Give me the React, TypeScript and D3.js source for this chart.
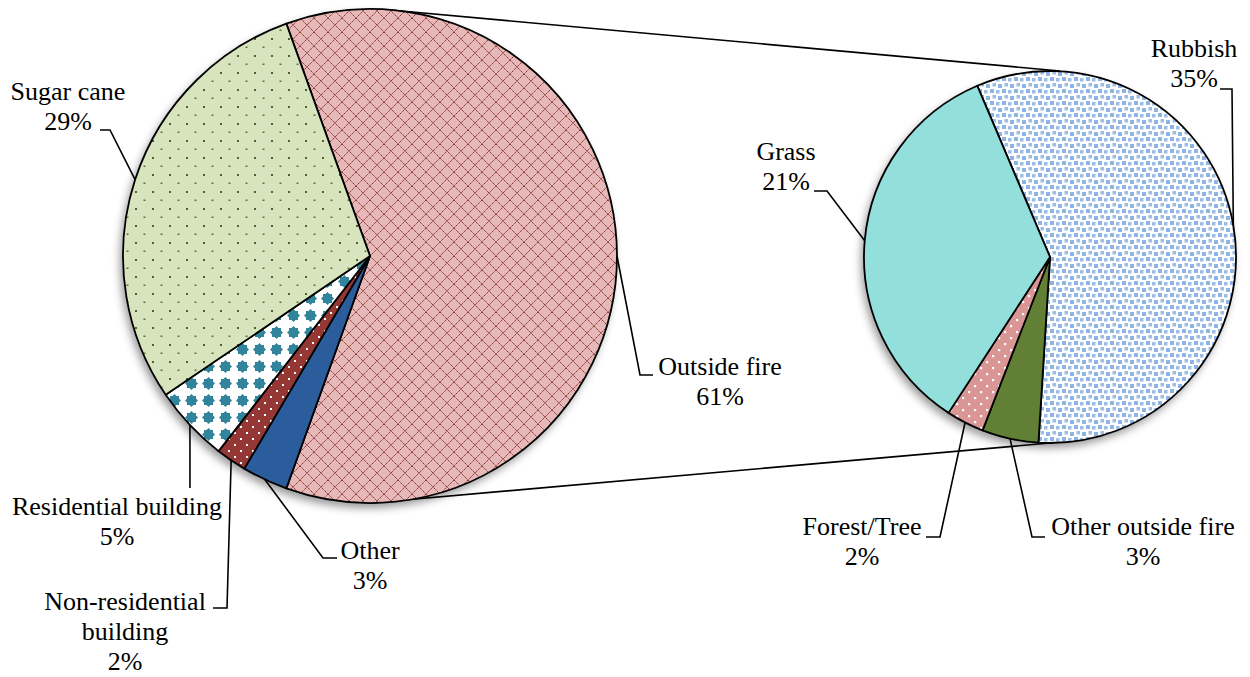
import React from "react";
import * as d3 from "d3";

// main pie
const mainCategories = ["Outside fire", "Other", "Non-residential building", "Residential building", "Sugar cane"];
const mainValues = [61, 3, 2, 5, 29];
const mainLabelLines = [["Outside fire", "61%"], ["Other", "3%"], ["Non-residential", "building", "2%"], ["Residential building", "5%"], ["Sugar cane", "29%"]];

// secondary pie (split of "Outside fire")
const subCategories = ["Rubbish", "Other outside fire", "Forest/Tree", "Grass"];
const subValues = [35, 3, 2, 21];
const subLabelLines = [["Rubbish", "35%"], ["Other outside fire", "3%"], ["Forest/Tree", "2%"], ["Grass", "21%"]];

const W = 1250;
const H = 677;
const LEFT = { cx: 370, cy: 256, r: 247 };
const RIGHT = { cx: 1050, cy: 257, r: 186 };
const FONT = "'Liberation Serif', 'Times New Roman', serif";
const FONT_SIZE = 26;
const LINE_H = 30;

const mainFills = ["url(#pLattice)", "#2B5C9B", "url(#pRedDots)", "url(#pDiamond)", "url(#pGreenDots)"];
const subFills = ["url(#pConfetti)", "#617F35", "url(#pPinkDots)", "#93DFDC"];

// label placement: text centre x, first baseline y, leader elbow and end of horizontal tick
const mainLayout = [
  { x: 720, y: 375, elbow: [640, 375], end: [653, 375] },
  { x: 370, y: 559, elbow: [323, 558], end: [337, 558] },
  { x: 125, y: 610, elbow: [227, 608], end: [213, 608] },
  { x: 117, y: 515, elbow: [null, 488], end: null },
  { x: 68, y: 100, elbow: [110, 130], end: [100, 130] }
];
const subLayout = [
  { x: 1194, y: 57, elbow: [1232, 89], end: [1220, 89] },
  { x: 1143, y: 535, elbow: [1032, 537], end: [1045, 537] },
  { x: 862, y: 535, elbow: [940, 537], end: [926, 537] },
  { x: 786, y: 160, elbow: [827, 191], end: [814, 191] }
];

const deg = Math.PI / 180;

function PieGroup({ values, fills, lines, layout, geo, start }) {
  const pie = d3.pie<number>().sort(null).value(d => d).startAngle(start).endAngle(start + 2 * Math.PI);
  const arcs = pie(values);
  const arc = d3.arc<any>().innerRadius(0).outerRadius(geo.r);
  return (
    <g>
      <circle cx={geo.cx} cy={geo.cy} r={geo.r} fill="#fff" filter="url(#shadow)" />
      <g transform={`translate(${geo.cx},${geo.cy})`}>
        {arcs.map((a, i) => (
          <path key={i} d={arc(a) || ""} fill={fills[i]} stroke="#000" strokeWidth={1.8} strokeLinejoin="round" />
        ))}
      </g>
      {arcs.map((a, i) => {
        const mid = (a.startAngle + a.endAngle) / 2;
        const ax = geo.cx + geo.r * Math.sin(mid);
        const ay = geo.cy - geo.r * Math.cos(mid);
        const L = layout[i];
        const ex = L.elbow[0] == null ? ax : L.elbow[0];
        const pts = [[ax, ay], [ex, L.elbow[1]]];
        if (L.end) pts.push(L.end);
        return (
          <g key={"l" + i}>
            <polyline points={pts.map(p => p.join(",")).join(" ")} fill="none" stroke="#000" strokeWidth={1.6} />
            <text x={L.x} y={L.y} textAnchor="middle" fontFamily={FONT} fontSize={FONT_SIZE} fill="#000">
              {lines[i].map((t, j) => (
                <tspan key={j} x={L.x} y={L.y + j * LINE_H}>{t}</tspan>
              ))}
            </text>
          </g>
        );
      })}
    </g>
  );
}

export default function App() {
  const mainSpan = (mainValues[0] / d3.sum(mainValues)) * 2 * Math.PI;
  const mainStart = Math.PI / 2 - mainSpan / 2;
  const subStart = -23 * deg;

  return (
    <div style={{ position: "absolute", left: 0, top: 0 }}>
      <svg width={W} height={H} style={{ display: "block", background: "#fff" }}>
        <defs>
          <filter id="shadow" x="-20%" y="-20%" width="140%" height="140%">
            <feDropShadow dx={-3} dy={5} stdDeviation={4} floodColor="#000" floodOpacity={0.4} />
          </filter>
          <pattern id="pLattice" width={14} height={14} patternUnits="userSpaceOnUse">
            <rect width={14} height={14} fill="#E6B9B8" />
            <path d="M0,0L14,14M14,0L0,14" stroke="#8A3533" strokeWidth={1} strokeDasharray="1.6,0.6" />
          </pattern>
          <pattern id="pGreenDots" width={17} height={17} patternUnits="userSpaceOnUse">
            <rect width={17} height={17} fill="#D7E4BD" />
            <rect x={3} y={3} width={2} height={2} fill="#4F6228" />
            <rect x={11.5} y={11.5} width={2} height={1.5} fill="#5E7433" />
          </pattern>
          <pattern id="pDiamond" width={17} height={17} patternUnits="userSpaceOnUse">
            <rect width={17} height={17} fill="#fff" />
            <path d="M8.5,2L15,8.5L8.5,15L2,8.5Z" fill="#31849B" />
            <rect x={4} y={4} width={9} height={9} fill="#31849B" />
          </pattern>
          <pattern id="pRedDots" width={12} height={12} patternUnits="userSpaceOnUse">
            <rect width={12} height={12} fill="#953735" />
            <rect x={2} y={2} width={2} height={2} fill="#fff" />
            <rect x={8} y={8} width={2} height={2} fill="#fff" />
          </pattern>
          <pattern id="pPinkDots" width={12} height={12} patternUnits="userSpaceOnUse">
            <rect width={12} height={12} fill="#D99694" />
            <rect x={2} y={2} width={2.2} height={2.2} fill="#fff" />
            <rect x={8} y={8} width={2.2} height={2.2} fill="#fff" />
          </pattern>
          <pattern id="pConfetti" width={12} height={12} patternUnits="userSpaceOnUse">
            <rect width={12} height={12} fill="#fff" />
            <rect x={0} y={0} width={4} height={4} fill="#8DB4E2" />
            <rect x={6} y={1} width={3.5} height={3.5} fill="#9CBDE6" />
            <rect x={2.5} y={6} width={3.5} height={3.5} fill="#9CBDE6" />
            <rect x={8} y={7} width={4} height={4} fill="#8DB4E2" />
          </pattern>
        </defs>

        {/* connector lines between the pies */}
        <line x1={LEFT.cx + 20} y1={LEFT.cy - LEFT.r + 1} x2={RIGHT.cx + 10} y2={RIGHT.cy - RIGHT.r} stroke="#000" strokeWidth={1.6} />
        <line x1={LEFT.cx} y1={LEFT.cy + LEFT.r} x2={RIGHT.cx} y2={RIGHT.cy + RIGHT.r} stroke="#000" strokeWidth={1.6} />

        <PieGroup values={mainValues} fills={mainFills} lines={mainLabelLines} layout={mainLayout} geo={LEFT} start={mainStart} />
        <PieGroup values={subValues} fills={subFills} lines={subLabelLines} layout={subLayout} geo={RIGHT} start={subStart} />
      </svg>
    </div>
  );
}
